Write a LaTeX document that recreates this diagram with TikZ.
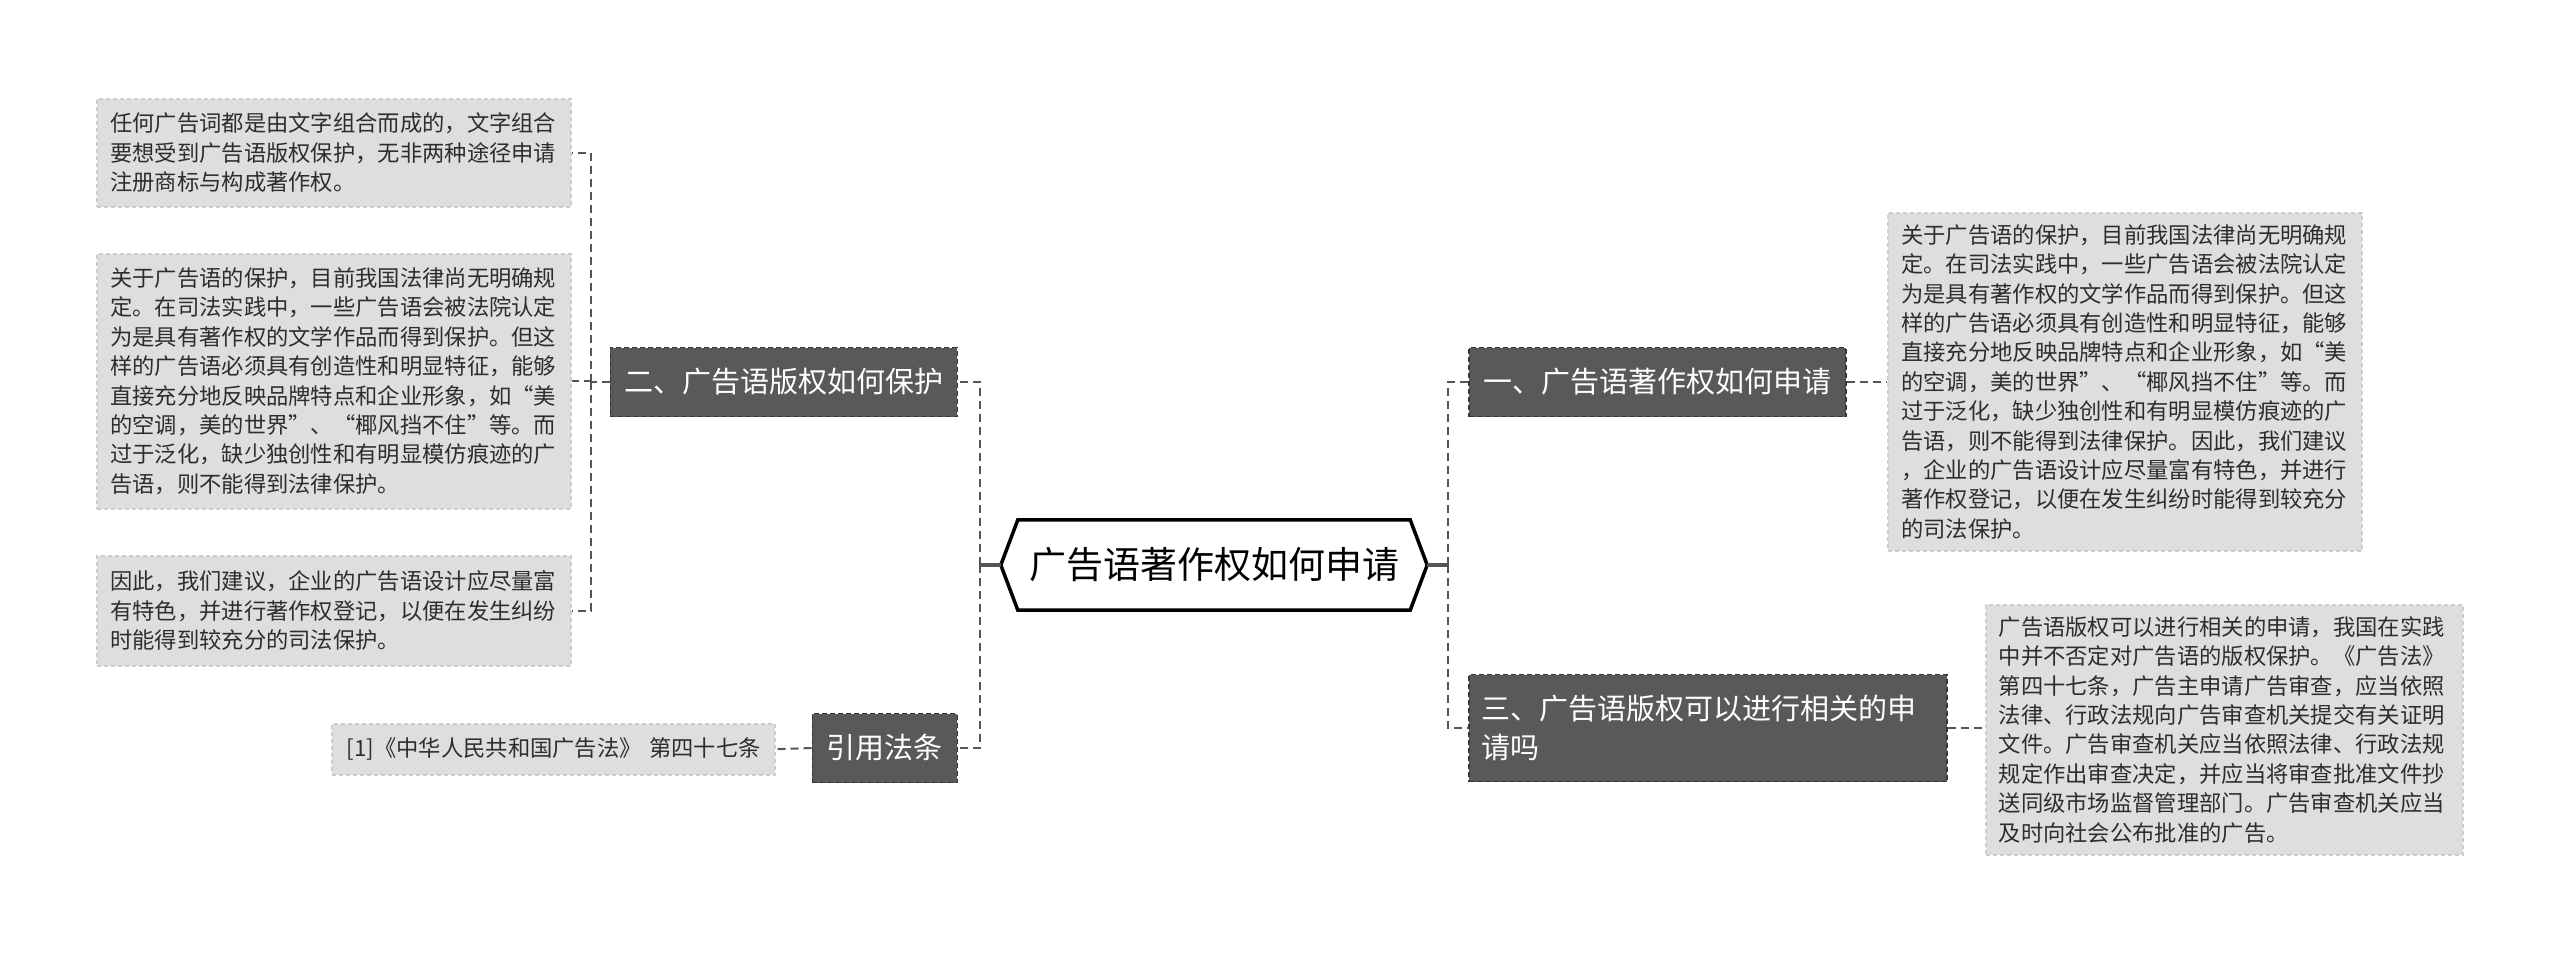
\documentclass[tikz,border=0pt]{standalone}
\usepackage{fontspec}
\setmainfont{Noto Sans CJK SC}
\usetikzlibrary{calc}
\definecolor{darkfill}{RGB}{89,89,89}
\definecolor{darkedge}{RGB}{55,55,55}
\definecolor{lightfill}{RGB}{222,222,222}
\definecolor{lightedge}{RGB}{205,205,205}
\definecolor{linkc}{RGB}{85,85,85}
\definecolor{txt}{RGB}{45,45,45}
\begin{document}
\begin{tikzpicture}[x=1pt,y=-1pt,
  darknode/.style={fill=darkfill, draw=darkedge, dash pattern=on 5pt off 3pt, line width=1.5pt,
    text=white, font=\fontsize{29pt}{39pt}\selectfont, inner xsep=14pt, inner ysep=0pt,
    minimum height=69pt, align=left},
  note/.style={fill=lightfill, draw=lightedge, dash pattern=on 4pt off 3pt, line width=1.5pt,
    text=txt, font=\fontsize{22.3pt}{29.4pt}\selectfont, inner xsep=13.5pt, inner ysep=0pt,
    align=left, text width=447pt, anchor=north west},
  link/.style={draw=linkc, line width=2pt, dash pattern=on 8pt off 5pt},
  stub/.style={draw=linkc, line width=3.5pt},
]
\fill[white] (0,0) rectangle (2560,953);
\useasboundingbox (0,0) rectangle (2560,953);

% centre
\node[minimum width=392pt, minimum height=90pt, inner sep=0pt, text=black,
  font=\fontsize{37pt}{44pt}\selectfont] (c) at (1214,565) {广告语著作权如何申请};
\coordinate (tipL) at ($(c.west)+(-17,0)$);
\coordinate (tipR) at ($(c.east)+(17,0)$);
\draw[line width=3.5pt, line join=miter] (c.north west) -- (c.north east) -- (tipR)
  -- (c.south east) -- (c.south west) -- (tipL) -- cycle;

% main branches
\node[darknode, anchor=east, minimum width=347pt] (n2) at (958,382) {二、广告语版权如何保护};
\node[darknode, anchor=east, minimum width=145pt] (n4) at (958,748) {引用法条};
\node[darknode, anchor=west, minimum width=377pt] (n1) at (1468,382) {一、广告语著作权如何申请};
\node[darknode, anchor=west, minimum height=107pt, text width=452pt, inner xsep=13pt] (n3) at (1468,728)
  {三、广告语版权可以进行相关的申\\请吗};

% notes left
\node[note, minimum height=108pt] (b1) at (96,98)
  {任何广告词都是由文字组合而成的，文字组合\\要想受到广告语版权保护，无非两种途径申请\\注册商标与构成著作权。};
\node[note, minimum height=255pt] (b2) at (96,253)
  {关于广告语的保护，目前我国法律尚无明确规\\定。在司法实践中，一些广告语会被法院认定\\为是具有著作权的文学作品而得到保护。但这\\样的广告语必须具有创造性和明显特征，能够\\直接充分地反映品牌特点和企业形象，如“美\\的空调，美的世界”、“椰风挡不住”等。而\\过于泛化，缺少独创性和有明显模仿痕迹的广\\告语，则不能得到法律保护。};
\node[note, minimum height=110pt] (b3) at (96,555)
  {因此，我们建议，企业的广告语设计应尽量富\\有特色，并进行著作权登记，以便在发生纠纷\\时能得到较充分的司法保护。};
\node[note, minimum height=51pt, text width=413pt, inner xsep=15pt,
  font=\fontsize{22.3pt}{26pt}\selectfont] (ref) at (331,723)
  {\mbox{[1]《中华人民共和国广告法》 第四十七条}};

% notes right
\node[note, minimum height=338pt] (r1) at (1887,212)
  {关于广告语的保护，目前我国法律尚无明确规\\定。在司法实践中，一些广告语会被法院认定\\为是具有著作权的文学作品而得到保护。但这\\样的广告语必须具有创造性和明显特征，能够\\直接充分地反映品牌特点和企业形象，如“美\\的空调，美的世界”、“椰风挡不住”等。而\\过于泛化，缺少独创性和有明显模仿痕迹的广\\告语，则不能得到法律保护。因此，我们建议\\，企业的广告语设计应尽量富有特色，并进行\\著作权登记，以便在发生纠纷时能得到较充分\\的司法保护。};
\node[note, minimum height=250pt, text width=451pt, inner xsep=13pt,
  font=\fontsize{22.3pt}{29.4pt}\selectfont] (r2) at (1985,604)
  {广告语版权可以进行相关的申请，我国在实践\\中并不否定对广告语的版权保护。《广告法》\\第四十七条，广告主申请广告审查，应当依照\\法律、行政法规向广告审查机关提交有关证明\\文件。广告审查机关应当依照法律、行政法规\\规定作出审查决定，并应当将审查批准文件抄\\送同级市场监督管理部门。广告审查机关应当\\及时向社会公布批准的广告。};

% connectors
\coordinate (LA) at (980,565);
\coordinate (RA) at (1448,565);
\coordinate (LB) at (591,382);
\draw[stub] (tipL) -- (LA);
\draw[stub] (tipR) -- (RA);
\draw[link] (LA) |- (n2.east);
\draw[link] (LA) |- (n4.east);
\draw[link] (RA) |- (n1.west);
\draw[link] (RA) |- (n3.west);
\draw[link] (n2.west) -- (LB);
\draw[link] (LB) |- (b1.east);
\draw[link] (LB) |- (b2.east);
\draw[link] (LB) |- (b3.east);
\draw[link] (n4.west) -- (ref.east);
\draw[link] (n1.east) -- (n1.east -| r1.west);
\draw[link] (n3.east) -- (n3.east -| r2.west);
\end{tikzpicture}
\end{document}
